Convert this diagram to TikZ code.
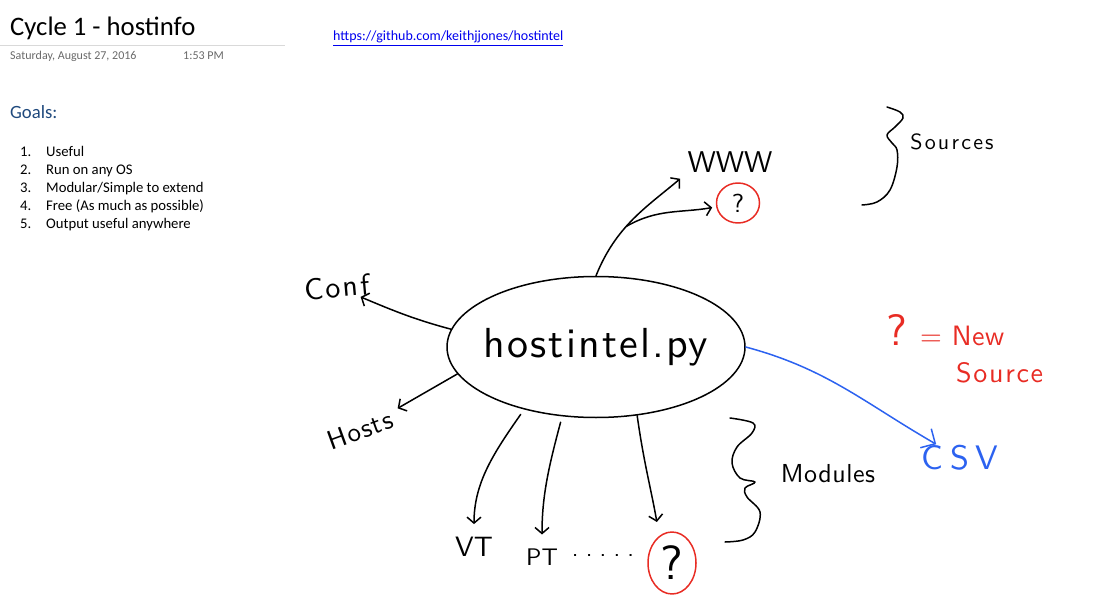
\documentclass[tikz,border=0pt]{standalone}
\usepackage{fontspec}
\setmainfont{Carlito}
\newfontfamily\handfont{lmsans10-regular.otf}
\usepackage{xcolor}
\usepackage{tikz}
\usetikzlibrary{arrows.meta, shapes.geometric}

\definecolor{penred}{RGB}{232,44,36}
\definecolor{penblue}{RGB}{44,98,240}
\definecolor{headblue}{RGB}{31,73,125}
\definecolor{linkblue}{RGB}{0,0,238}
\definecolor{dategray}{RGB}{105,105,105}
\newcommand{\pensize}[1]{\fontsize{#1}{#1}\selectfont}

\begin{document}
\begin{tikzpicture}[x=1pt, y=1pt,
  pen/.style={line width=1.5pt, line cap=round, line join=round},
  tip/.style={-{Straight Barb[length=6pt, width=14pt]}},
  bigtip/.style={-{Straight Barb[length=11pt, width=22pt]}},
  typed/.style={anchor=base west, inner sep=0pt, font=\pensize{#1}},
  hand/.style 2 args={inner sep=1pt, font=\handfont\pensize{#1}\addfontfeature{LetterSpace=#2}},
  redring/.style={ellipse, draw=penred, pen, inner sep=0pt}]

\useasboundingbox (0,0) rectangle (1097,-612);

\node[typed=26.7] (title) at (10,-36) {Cycle 1 - hostinfo};
\draw[black!15, line width=0.8pt] (0,-45) -- (285,-45);
\node[typed=12, text=dategray] (date) at (10,-60) {Saturday, August 27, 2016};
\node[typed=12, text=dategray] (time) at (183,-60) {1:53 PM};
\node[typed=14, text=linkblue] (link) at (333,-41) {\underline{https://github.com/keithjjones/hostintel}};

\node[typed=18.7, text=headblue] (goals) at (10,-119) {Goals:};
\node[anchor=base west, inner sep=0pt, font=\fontsize{14.7}{18}\selectfont] (goallist) at (20,-157)
  {\begin{tabular}[t]{@{}p{26pt}@{}l@{}}
   1. & Useful\\
   2. & Run on any OS\\
   3. & Modular/Simple to extend\\
   4. & Free (As much as possible)\\
   5. & Output useful anywhere
   \end{tabular}};

\node[ellipse, draw, pen, minimum width=298pt, minimum height=141pt, hand={42}{5},
  inner xsep=-8pt, inner ysep=0pt] (hostintel) at (596,-347) {hostintel.py};

\node[hand={30}{0}] (www) at (730,-162) {WWW};
\node[redring, minimum width=43pt, minimum height=40pt, font=\handfont\pensize{26}] (q1) at (738,-203) {?};
\node[hand={30}{8}, rotate=5] (conf) at (337,-287) {Conf};
\node[hand={27}{4}, rotate=20] (hosts) at (360,-430) {Hosts};
\node[hand={28}{0}] (vt) at (474,-547) {VT};
\node[hand={24}{0}] (pt) at (542,-557) {PT};
\node[hand={24}{30}] (ptdots) at (603,-555) {.....};
\node[redring, minimum width=48pt, minimum height=62pt, font=\handfont\pensize{48}] (q2) at (672,-563) {?};
\node[hand={34}{20}, text=penblue] (csv) at (960,-458) {CSV};

\node[hand={22}{10}] (sources) at (952,-142) {Sources};
\node[hand={26}{2}] (modules) at (828,-474) {Modules};
\node[hand={28}{2}, text=penred, anchor=base west] (legend) at (885,-345) {{\pensize{44}?} = New};
\node[hand={28}{6}, text=penred, anchor=base west] (legendsrc) at (955,-382) {Source};

\draw[pen] plot[smooth, tension=0.6] coordinates {(887,-107) (900,-112) (903,-118) (895,-127) (887,-135)
  (892,-143) (897,-150) (897,-167) (890,-190) (877,-202) (862,-205)};
\draw[pen] plot[smooth, tension=0.6] coordinates {(730,-418) (753,-423) (752,-433) (737,-447) (732,-463)
  (740,-478) (755,-482) (745,-488) (747,-497) (760,-512) (755,-532) (743,-540) (725,-542)};

\draw[pen, tip, shorten >=8pt] (hostintel.north) to[out=68, in=220] coordinate[pos=0.42] (fork) (www.south west);
\draw[pen, tip, shorten >=4pt] (fork) to[out=30, in=190] (q1);
\draw[pen, tip] (hostintel.173) to[out=165, in=-25] (conf);
\draw[pen, tip, shorten >=8pt] (hostintel.191) -- (hosts);
\draw[pen, tip, shorten <=6pt, shorten >=12pt] (hostintel.221) to[out=235, in=90] (vt);
\draw[pen, tip, shorten <=6pt, shorten >=13pt] (hostintel.244) to[out=255, in=90] (pt);
\draw[pen, tip, shorten >=14pt] (hostintel.301) to[out=-82, in=100] (q2.115);
\draw[pen, penblue, bigtip] (hostintel.east) to[out=-15, in=150] (csv);
\end{tikzpicture}
\end{document}
